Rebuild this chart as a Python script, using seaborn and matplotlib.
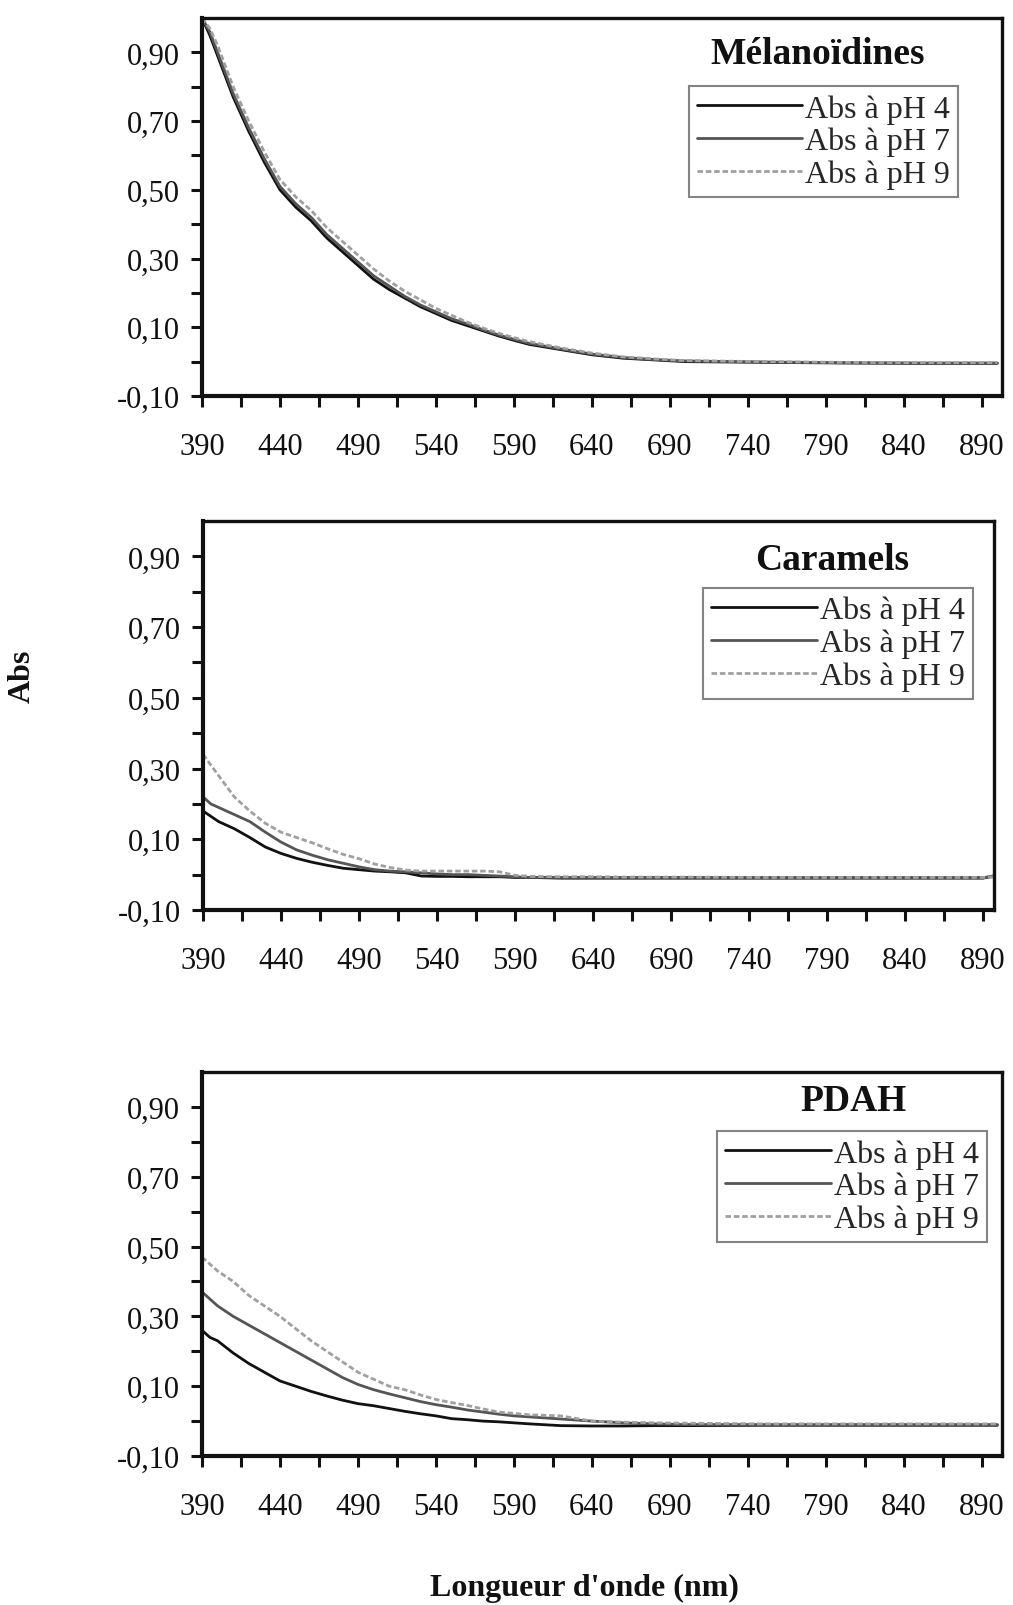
import numpy as np
import pandas as pd
import matplotlib
matplotlib.use("Agg")
import matplotlib.pyplot as plt
import seaborn as sns

# wavelengths (nm) where the curves were read
WL = [390, 395, 400, 410, 420, 430, 440, 450, 460, 470, 480, 490, 500, 510, 520,
      530, 540, 550, 560, 570, 580, 590, 600, 620, 640, 660, 680, 700, 750, 800,
      850, 890, 900]

# Mélanoïdines
mel_ph4 = [1.00, 0.95, 0.89, 0.77, 0.67, 0.58, 0.50, 0.45, 0.41, 0.36, 0.32, 0.28,
           0.24, 0.21, 0.185, 0.16, 0.14, 0.12, 0.105, 0.09, 0.075, 0.062, 0.05,
           0.035, 0.02, 0.01, 0.005, 0.0, -0.002, -0.004, -0.005, -0.005, -0.005]
mel_ph7 = [1.00, 0.96, 0.90, 0.78, 0.68, 0.59, 0.51, 0.46, 0.42, 0.37, 0.33, 0.29,
           0.25, 0.22, 0.19, 0.165, 0.145, 0.125, 0.11, 0.093, 0.078, 0.065, 0.053,
           0.037, 0.022, 0.012, 0.006, 0.002, -0.001, -0.003, -0.004, -0.004, -0.004]
mel_ph9 = [1.00, 0.97, 0.92, 0.80, 0.70, 0.61, 0.53, 0.48, 0.44, 0.39, 0.35, 0.31,
           0.27, 0.235, 0.205, 0.18, 0.155, 0.135, 0.115, 0.098, 0.083, 0.07, 0.058,
           0.04, 0.025, 0.014, 0.008, 0.003, 0.0, -0.002, -0.003, -0.003, -0.003]

# Caramels
car_ph4 = [0.18, 0.165, 0.15, 0.13, 0.105, 0.078, 0.06, 0.046, 0.035, 0.026, 0.018,
           0.014, 0.01, 0.008, 0.005, -0.004, -0.005, -0.005, -0.006, -0.006, -0.006,
           -0.008, -0.008, -0.01, -0.01, -0.01, -0.01, -0.01, -0.01, -0.01, -0.01,
           -0.01, 0.0]
car_ph7 = [0.22, 0.20, 0.19, 0.17, 0.15, 0.12, 0.092, 0.07, 0.055, 0.042, 0.032,
           0.022, 0.014, 0.01, 0.008, 0.005, 0.002, 0.0, 0.0, -0.002, -0.004, -0.006,
           -0.008, -0.008, -0.008, -0.008, -0.008, -0.008, -0.008, -0.008, -0.008,
           -0.008, -0.005]
car_ph9 = [0.34, 0.31, 0.28, 0.22, 0.18, 0.145, 0.12, 0.105, 0.09, 0.073, 0.057,
           0.045, 0.03, 0.02, 0.013, 0.01, 0.01, 0.01, 0.01, 0.01, 0.008, -0.002,
           -0.005, -0.006, -0.006, -0.007, -0.007, -0.007, -0.008, -0.008, -0.008,
           -0.008, -0.004]

# PDAH
pdah_ph4 = [0.26, 0.24, 0.23, 0.195, 0.165, 0.14, 0.115, 0.10, 0.085, 0.072, 0.06,
            0.05, 0.044, 0.036, 0.028, 0.021, 0.015, 0.007, 0.004, 0.0, -0.002,
            -0.005, -0.008, -0.013, -0.014, -0.014, -0.013, -0.013, -0.012, -0.012,
            -0.012, -0.012, -0.012]
pdah_ph7 = [0.37, 0.35, 0.33, 0.30, 0.275, 0.25, 0.225, 0.20, 0.175, 0.15, 0.125,
            0.105, 0.09, 0.078, 0.067, 0.056, 0.047, 0.04, 0.032, 0.026, 0.02, 0.015,
            0.012, 0.006, 0.0, -0.005, -0.008, -0.01, -0.01, -0.01, -0.01, -0.01, -0.01]
pdah_ph9 = [0.47, 0.45, 0.43, 0.40, 0.36, 0.33, 0.30, 0.265, 0.23, 0.20, 0.17, 0.14,
            0.12, 0.10, 0.09, 0.075, 0.062, 0.053, 0.045, 0.035, 0.026, 0.022, 0.018,
            0.015, 0.0, -0.003, -0.005, -0.006, -0.008, -0.008, -0.008, -0.008, -0.008]

SERIES_LABELS = ["Abs à pH 4", "Abs à pH 7", "Abs à pH 9"]
PANEL_TITLES = ["Mélanoïdines", "Caramels", "PDAH"]
Y_TICKS = [-0.10, 0.10, 0.30, 0.50, 0.70, 0.90]
Y_TICK_LABELS = ["-0,10", "0,10", "0,30", "0,50", "0,70", "0,90"]
X_TICKS = [390, 440, 490, 540, 590, 640, 690, 740, 790, 840, 890]

panels = [
    (mel_ph4, mel_ph7, mel_ph9),
    (car_ph4, car_ph7, car_ph9),
    (pdah_ph4, pdah_ph7, pdah_ph9),
]

sns.set_style("ticks")
plt.rcParams["font.family"] = ["Liberation Serif", "DejaVu Serif"]

W, H = 1013, 1606
fig = plt.figure(figsize=(W / 100, H / 100), dpi=100)

# axes boxes in pixels: left, top, right, bottom
boxes = [(202, 19, 1002, 397), (203, 522, 994, 911), (202, 1073, 1002, 1457)]
xmax = [903, 897, 903]
legend_anchor = [(0.945, 0.82), (0.973, 0.828), (0.981, 0.846)]
title_pos = [(0.769, 0.907), (0.795, 0.902), (0.814, 0.927)]

colors = ["#111111", "#555555", "#a0a0a0"]
styles = ["-", "-", (0, (2, 1))]

for i, (series, box) in enumerate(zip(panels, boxes)):
    l, t, r, b = box
    ax = fig.add_axes([l / W, 1 - b / H, (r - l) / W, (b - t) / H])
    for vals, lab, c, ls in zip(series, SERIES_LABELS, colors, styles):
        df = pd.DataFrame({"wl": WL, "abs": vals})
        sns.lineplot(data=df, x="wl", y="abs", ax=ax, color=c, linestyle=ls,
                     linewidth=2.0, label=lab)
    ax.set_xlim(390, xmax[i])
    ax.set_ylim(-0.10, 1.0)
    ax.set_yticks(Y_TICKS)
    ax.set_yticklabels(Y_TICK_LABELS)
    ax.set_yticks([0.0, 0.2, 0.4, 0.6, 0.8], minor=True)
    ax.set_xticks(X_TICKS)
    ax.set_xticklabels([str(x) for x in X_TICKS])
    ax.set_xticks([415, 465, 515, 565, 615, 665, 715, 765, 815, 865], minor=True)
    ax.tick_params(which="both", direction="out", length=8, width=2.2,
                   labelsize=22, colors="#111111", pad=8)
    ax.tick_params(axis="x", which="major", pad=18)
    ax.set_xlabel("")
    ax.set_ylabel("")
    for sp in ax.spines.values():
        sp.set_visible(True)
        sp.set_linewidth(2.4)
        sp.set_color("#111111")
    ax.spines["left"].set_linewidth(3)
    ax.spines["bottom"].set_linewidth(3)

    leg = ax.legend(loc="upper right", bbox_to_anchor=legend_anchor[i],
                    fontsize=23, frameon=True, fancybox=False, handlelength=3.3,
                    handletextpad=0.1, labelspacing=0.1, borderpad=0.25,
                    borderaxespad=0.0)
    leg.get_frame().set_edgecolor("#666666")
    leg.get_frame().set_linewidth(1.5)
    for line in leg.get_lines():
        line.set_linewidth(2.0)
    ax.text(title_pos[i][0], title_pos[i][1], PANEL_TITLES[i], transform=ax.transAxes,
            ha="center", va="center", fontsize=27, fontweight="bold", color="#111111")

fig.text(22 / W, 1 - 676 / H, "Abs", rotation=90, ha="center", va="center",
         fontsize=23, fontweight="bold", color="#111111")
fig.text(584 / W, 1 - 1588 / H, "Longueur d'onde (nm)", ha="center", va="center",
         fontsize=23, fontweight="bold", color="#111111")

fig.savefig("out.png", dpi=100, facecolor="white")
